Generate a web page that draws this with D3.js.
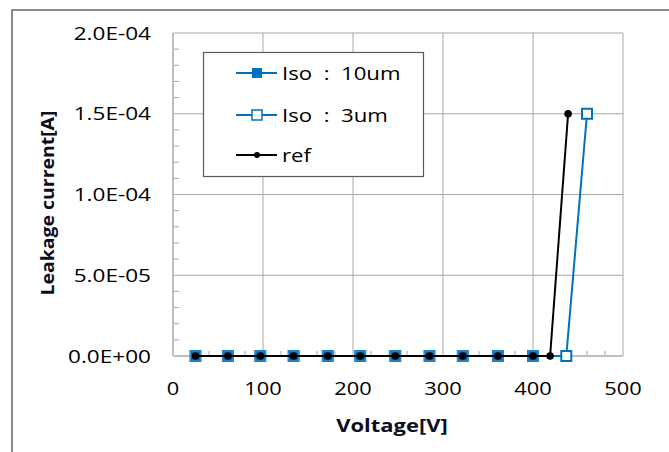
<!DOCTYPE html>
<html>
<head>
<meta charset="utf-8">
<script src="https://cdn.jsdelivr.net/npm/d3@7.9.0/dist/d3.min.js"></script>
<style>
  body { margin: 0; background: #fff; }
  svg { display: block; font-family: "Open Sans", "Noto Sans", sans-serif; }
</style>
</head>
<body>
<svg id="chart" width="669" height="452"></svg>
<script>
// data
const voltage = [25, 61, 97, 134, 172, 208, 247, 285, 322, 361, 400];
const iso10Voltage = voltage;
const iso10Current = [0, 0, 0, 0, 0, 0, 0, 0, 0, 0, 0];
const iso3Voltage = [...voltage, 437, 460];
const iso3Current = [0, 0, 0, 0, 0, 0, 0, 0, 0, 0, 0, 0, 1.5e-4];
const refVoltage = [...voltage, 419, 439];
const refCurrent = [0, 0, 0, 0, 0, 0, 0, 0, 0, 0, 0, 0, 1.5e-4];
const xTicks = [0, 100, 200, 300, 400, 500];
const yTicks = [0, 5e-5, 1e-4, 1.5e-4, 2e-4];
const yTickLabels = ["0.0E+00", "5.0E-05", "1.0E-04", "1.5E-04", "2.0E-04"];
const legendLabels = ["Iso\u00a0\u00a0:\u00a0\u00a010um", "Iso\u00a0\u00a0:\u00a0\u00a03um", "ref"];

const blue = "#0070c0";
const svg = d3.select("#chart");

// text widened a little, the original font runs wider than Open Sans
function label(g, tx, ty, s, size, anchor, sx, extra) {
  return g.append("text")
    .attr("transform", `translate(${tx},${ty}) ${extra || ""} scale(${sx},1)`)
    .attr("text-anchor", anchor).attr("font-size", size).attr("fill", "#000").text(s);
}

// outer chart frame
svg.append("rect").attr("x", 12).attr("y", 10).attr("width", 700).attr("height", 500)
  .attr("fill", "none").attr("stroke", "#8a8a8a").attr("stroke-width", 2);

const pLeft = 173, pRight = 623, pTop = 33, pBottom = 356;
const x = d3.scaleLinear().domain([0, 500]).range([pLeft, pRight]);
const y = d3.scaleLinear().domain([0, 2e-4]).range([pBottom, pTop]);

// gridlines
const grid = svg.append("g").attr("stroke", "#a6a6a6").attr("stroke-width", 1);
xTicks.slice(1).forEach(t => {
  grid.append("line").attr("x1", x(t)).attr("x2", x(t)).attr("y1", pTop).attr("y2", pBottom);
});
yTicks.slice(1).forEach(t => {
  grid.append("line").attr("x1", pLeft).attr("x2", pRight).attr("y1", y(t)).attr("y2", y(t));
});

// minor ticks
const minor = svg.append("g").attr("stroke", "#a6a6a6").attr("stroke-width", 1);
d3.range(20, 500, 20).filter(v => v % 100 !== 0).forEach(v => {
  minor.append("line").attr("x1", x(v)).attr("x2", x(v)).attr("y1", pBottom).attr("y2", pBottom - 5);
});
d3.range(1, 20).filter(i => i % 5 !== 0).forEach(i => {
  const v = i * 1e-5;
  minor.append("line").attr("x1", pLeft).attr("x2", pLeft + 6).attr("y1", y(v)).attr("y2", y(v));
});

// axis lines
svg.append("line").attr("x1", pLeft).attr("x2", pLeft).attr("y1", pTop).attr("y2", pBottom)
  .attr("stroke", "#bfbfbf").attr("stroke-width", 2);
svg.append("line").attr("x1", pLeft).attr("x2", pRight).attr("y1", pBottom).attr("y2", pBottom)
  .attr("stroke", "#bfbfbf").attr("stroke-width", 2);

// tick labels
const xt = svg.append("g");
xTicks.forEach(d => label(xt, x(d), 395, d, 18.5, "middle", 1.18));
const yt = svg.append("g");
yTicks.forEach((d, i) => label(yt, 151, y(d) + 6.5, yTickLabels[i], 18.5, "end", 1.22));

// axis titles
label(svg, 392, 432, "Voltage[V]", 18, "middle", 1.22)
  .attr("font-weight", "bold").attr("fill", "#0d0d20");
label(svg, 54, 203, "Leakage current[A]", 18, "middle", 1.08, "rotate(-90)")
  .attr("font-weight", "bold").attr("fill", "#0d0d20");

const line = d3.line().x(d => x(d[0])).y(d => y(d[1]));
const pts = (vs, cs) => vs.map((v, i) => [v, cs[i]]);

// Iso 3um (open squares)
const s3 = pts(iso3Voltage, iso3Current);
svg.append("path").attr("d", line(s3)).attr("fill", "none").attr("stroke", blue).attr("stroke-width", 2);
svg.append("g").selectAll("rect").data(s3).join("rect")
  .attr("x", d => x(d[0]) - 5).attr("y", d => y(d[1]) - 5).attr("width", 10).attr("height", 10)
  .attr("fill", "#fff").attr("stroke", blue).attr("stroke-width", 2);

// Iso 10um (filled squares)
const s10 = pts(iso10Voltage, iso10Current);
svg.append("path").attr("d", line(s10)).attr("fill", "none").attr("stroke", blue).attr("stroke-width", 2);
svg.append("g").selectAll("rect").data(s10).join("rect")
  .attr("x", d => x(d[0]) - 5).attr("y", d => y(d[1]) - 5).attr("width", 10).attr("height", 10)
  .attr("fill", blue).attr("stroke", "#3d8fd0").attr("stroke-width", 1);

// ref (black dots)
const sr = pts(refVoltage, refCurrent);
svg.append("path").attr("d", line(sr)).attr("fill", "none").attr("stroke", "#000").attr("stroke-width", 2);
svg.append("g").selectAll("circle").data(sr).join("circle")
  .attr("cx", d => x(d[0])).attr("cy", d => y(d[1])).attr("r", 3.8).attr("fill", "#000");

// legend
const lg = svg.append("g");
lg.append("rect").attr("x", 203.5).attr("y", 52.5).attr("width", 220).attr("height", 124)
  .attr("fill", "#fff").attr("stroke", "#595959").attr("stroke-width", 1.2);
const rowsY = [73, 115, 155];
legendLabels.forEach((lab, i) => {
  const yy = rowsY[i];
  const col = i < 2 ? blue : "#000";
  lg.append("line").attr("x1", 236).attr("x2", 277).attr("y1", yy).attr("y2", yy)
    .attr("stroke", col).attr("stroke-width", 2);
  if (i === 0) {
    lg.append("rect").attr("x", 252).attr("y", yy - 5).attr("width", 10).attr("height", 10).attr("fill", blue);
  } else if (i === 1) {
    lg.append("rect").attr("x", 252).attr("y", yy - 5).attr("width", 10).attr("height", 10)
      .attr("fill", "#fff").attr("stroke", blue).attr("stroke-width", 1.5);
  } else {
    lg.append("circle").attr("cx", 257).attr("cy", yy).attr("r", 3).attr("fill", "#000");
  }
  label(lg, 282, yy + 7, lab, 18.5, "start", 1.2);
});
</script>
</body>
</html>
